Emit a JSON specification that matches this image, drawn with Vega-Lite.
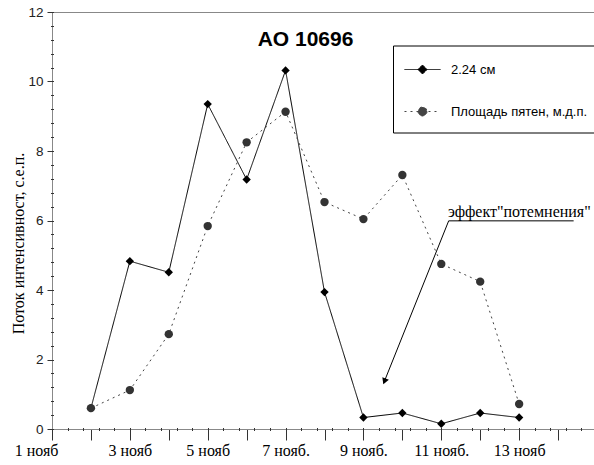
{
  "$schema": "https://vega.github.io/schema/vega-lite/v6.json",
  "width": 545,
  "height": 417,
  "autosize": "none",
  "padding": {"left": 52, "top": 12, "right": 0, "bottom": 36},
  "background": "white",
  "title": {"text": "AO 10696", "font": "Liberation Sans", "fontSize": 21, "fontWeight": "bold", "color": "black", "anchor": "middle", "frame": "group", "orient": "top", "offset": 0, "baseline": "alphabetic", "dx": -19, "dy": 62},
  "config": {"view": {"stroke": "#888888", "strokeWidth": 1}, "axis": {"grid": false}},
  "datasets": {
    "main": [
      {"day": 2, "value": 0.6, "series": "2.24 см"},
      {"day": 3, "value": 4.83, "series": "2.24 см"},
      {"day": 4, "value": 4.51, "series": "2.24 см"},
      {"day": 5, "value": 9.35, "series": "2.24 см"},
      {"day": 6, "value": 7.18, "series": "2.24 см"},
      {"day": 7, "value": 10.32, "series": "2.24 см"},
      {"day": 8, "value": 3.94, "series": "2.24 см"},
      {"day": 9, "value": 0.33, "series": "2.24 см"},
      {"day": 10, "value": 0.46, "series": "2.24 см"},
      {"day": 11, "value": 0.15, "series": "2.24 см"},
      {"day": 12, "value": 0.46, "series": "2.24 см"},
      {"day": 13, "value": 0.33, "series": "2.24 см"},
      {"day": 2, "value": 0.6, "series": "Площадь пятен, м.д.п."},
      {"day": 3, "value": 1.12, "series": "Площадь пятен, м.д.п."},
      {"day": 4, "value": 2.73, "series": "Площадь пятен, м.д.п."},
      {"day": 5, "value": 5.84, "series": "Площадь пятен, м.д.п."},
      {"day": 6, "value": 8.25, "series": "Площадь пятен, м.д.п."},
      {"day": 7, "value": 9.13, "series": "Площадь пятен, м.д.п."},
      {"day": 8, "value": 6.53, "series": "Площадь пятен, м.д.п."},
      {"day": 9, "value": 6.04, "series": "Площадь пятен, м.д.п."},
      {"day": 10, "value": 7.31, "series": "Площадь пятен, м.д.п."},
      {"day": 11, "value": 4.75, "series": "Площадь пятен, м.д.п."},
      {"day": 12, "value": 4.24, "series": "Площадь пятен, м.д.п."},
      {"day": 13, "value": 0.72, "series": "Площадь пятен, м.д.п."}
    ]
  },
  "layer": [
    {
      "data": {"name": "main"},
      "mark": {"type": "line", "strokeWidth": 1},
      "encoding": {
        "x": {"field": "day", "type": "quantitative", "scale": {"domain": [1, 15], "nice": false, "zero": false},
          "axis": {"orient": "bottom", "values": [1,2,3,4,5,6,7,8,9,10,11,12,13,14,15], "title": null,
            "labelExpr": "datum.value == 1 ? '1 нояб' : datum.value == 3 ? '3 нояб' : datum.value == 5 ? '5 нояб' : datum.value == 7 ? '7 нояб.' : datum.value == 9 ? '9 нояб.' : datum.value == 11 ? '11 нояб.' : datum.value == 13 ? '13 нояб' : ''",
            "labelFont": "Liberation Serif", "labelFontSize": 16, "labelColor": "black",
            "tickSize": 11, "tickColor": "#333333", "domainColor": "#888888",
            "labelFlush": false, "labelOverlap": false, "labelPadding": 2,
            "labelOffset": {"condition": {"test": "datum.value == 1", "value": -16}, "value": 0}}},
        "y": {"field": "value", "type": "quantitative", "scale": {"domain": [0, 12], "nice": false},
          "axis": {"orient": "left", "values": [0,2,4,6,8,10,12], "title": "Поток интенсивност, с.е.п.",
            "titleFont": "Liberation Serif", "titleFontSize": 16, "titleFontWeight": "normal", "titleColor": "black",
            "titleX": -34, "titleY": 231, "titleAngle": -90, "titleBaseline": "middle", "titleAlign": "center",
            "labelFont": "Liberation Sans", "labelFontSize": 13.5, "labelColor": "#222222",
            "tickSize": 5, "tickColor": "#333333", "domainColor": "#888888", "labelPadding": 4}},
        "color": {"field": "series", "type": "nominal", "scale": {"domain": ["2.24 см", "Площадь пятен, м.д.п."], "range": ["#000000", "#444444"]},
          "legend": {"labelExpr": "indexof(datum.label, '2.24') >= 0 ? '\u00a0\u00a0\u00a0\u00a0' + datum.label : datum.label"}},
        "strokeDash": {"field": "series", "type": "nominal", "scale": {"domain": ["2.24 см", "Площадь пятен, м.д.п."], "range": [[1, 0], [2, 4]]},
          "legend": {"labelExpr": "indexof(datum.label, '2.24') >= 0 ? '\u00a0\u00a0\u00a0\u00a0' + datum.label : datum.label"}}
      }
    },
    {
      "data": {"name": "main"},
      "transform": [{"filter": "datum.series == '2.24 см'"}],
      "mark": {"type": "point", "filled": true, "opacity": 1, "size": 70, "shape": "diamond", "color": "#000000"},
      "encoding": {
        "x": {"field": "day", "type": "quantitative",
          "axis": {"orient": "bottom", "values": [1,1.4,1.8,2.2,2.6,3,3.4,3.8,4.2,4.6,5,5.4,5.8,6.2,6.6,7,7.4,7.8,8.2,8.6,9,9.4,9.8,10.2,10.6,11,11.4,11.8,12.2,12.6,13,13.4,13.8,14.2,14.6,15],
            "labels": false, "domain": false, "title": null, "tickSize": 3, "offset": -1.5, "tickColor": "#333333"}},
        "y": {"field": "value", "type": "quantitative",
          "axis": {"orient": "left", "values": [0,0.4,0.8,1.2,1.6,2,2.4,2.8,3.2,3.6,4,4.4,4.8,5.2,5.6,6,6.4,6.8,7.2,7.6,8,8.4,8.8,9.2,9.6,10,10.4,10.8,11.2,11.6,12],
            "labels": false, "domain": false, "title": null, "tickSize": 3, "offset": -1.5, "tickColor": "#333333"}}
      }
    },
    {
      "data": {"name": "main"},
      "transform": [{"filter": "datum.series != '2.24 см'"}],
      "mark": {"type": "point", "filled": true, "opacity": 1, "size": 70, "shape": "circle", "color": "#333333"},
      "encoding": {
        "x": {"field": "day", "type": "quantitative", "axis": null},
        "y": {"field": "value", "type": "quantitative", "axis": null}
      }
    },
    {
      "data": {"name": "main"},
      "transform": [{"filter": "false"}],
      "mark": {"type": "point", "filled": true, "opacity": 1, "stroke": "#222222", "strokeWidth": 1},
      "encoding": {
        "color": {"field": "series", "type": "nominal"},
        "strokeDash": {"field": "series", "type": "nominal"},
        "shape": {"field": "series", "type": "nominal",
          "scale": {"domain": ["2.24 см", "Площадь пятен, м.д.п."],
            "range": ["M-1.316,0L2.474,0M0.579,-0.474L1.053,0L0.579,0.474L0.105,0Z", "M-1.316,0L2.474,0M1.053,0A0.474,0.474,0,1,1,0.105,0A0.474,0.474,0,1,1,1.053,0Z"]},
          "legend": {"orient": "none", "legendX": 341, "legendY": 33.5, "title": null, "padding": 14,
            "fillColor": "white", "strokeColor": "black",
            "symbolSize": 361, "symbolStrokeWidth": 1, "symbolOpacity": 1, "symbolFillColor": "#000000", "symbolStrokeColor": "#222222",
            "rowPadding": 25,
            "labelFont": "Liberation Sans", "labelFontSize": 13, "labelColor": "black", "labelOffset": 24,
            "labelExpr": "indexof(datum.label, '2.24') >= 0 ? '\u00a0\u00a0\u00a0\u00a0' + datum.label : datum.label"}}
      }
    },
    {
      "data": {"values": [
        {"x": 11.19, "y": 5.99, "x2": 14.4, "y2": 5.99},
        {"x": 11.19, "y": 5.99, "x2": 9.52, "y2": 1.32}
      ]},
      "mark": {"type": "rule", "color": "black", "strokeWidth": 1},
      "encoding": {
        "x": {"field": "x", "type": "quantitative", "axis": null},
        "y": {"field": "y", "type": "quantitative", "axis": null},
        "x2": {"field": "x2"},
        "y2": {"field": "y2"}
      }
    },
    {
      "data": {"values": [{"x": 9.55, "y": 1.4}]},
      "mark": {"type": "point", "shape": "triangle", "filled": true, "color": "black", "opacity": 1, "size": 50, "angle": 202},
      "encoding": {
        "x": {"field": "x", "type": "quantitative", "axis": null},
        "y": {"field": "y", "type": "quantitative", "axis": null}
      }
    },
    {
      "data": {"values": [{"x": 11.17, "y": 6.1, "label": "эффект\"потемнения\""}]},
      "mark": {"type": "text", "align": "left", "baseline": "alphabetic", "font": "Liberation Serif", "fontSize": 16, "color": "black"},
      "encoding": {
        "x": {"field": "x", "type": "quantitative", "axis": null},
        "y": {"field": "y", "type": "quantitative", "axis": null},
        "text": {"field": "label"}
      }
    }
  ],
  "resolve": {"axis": {"x": "independent", "y": "independent"}}
}
